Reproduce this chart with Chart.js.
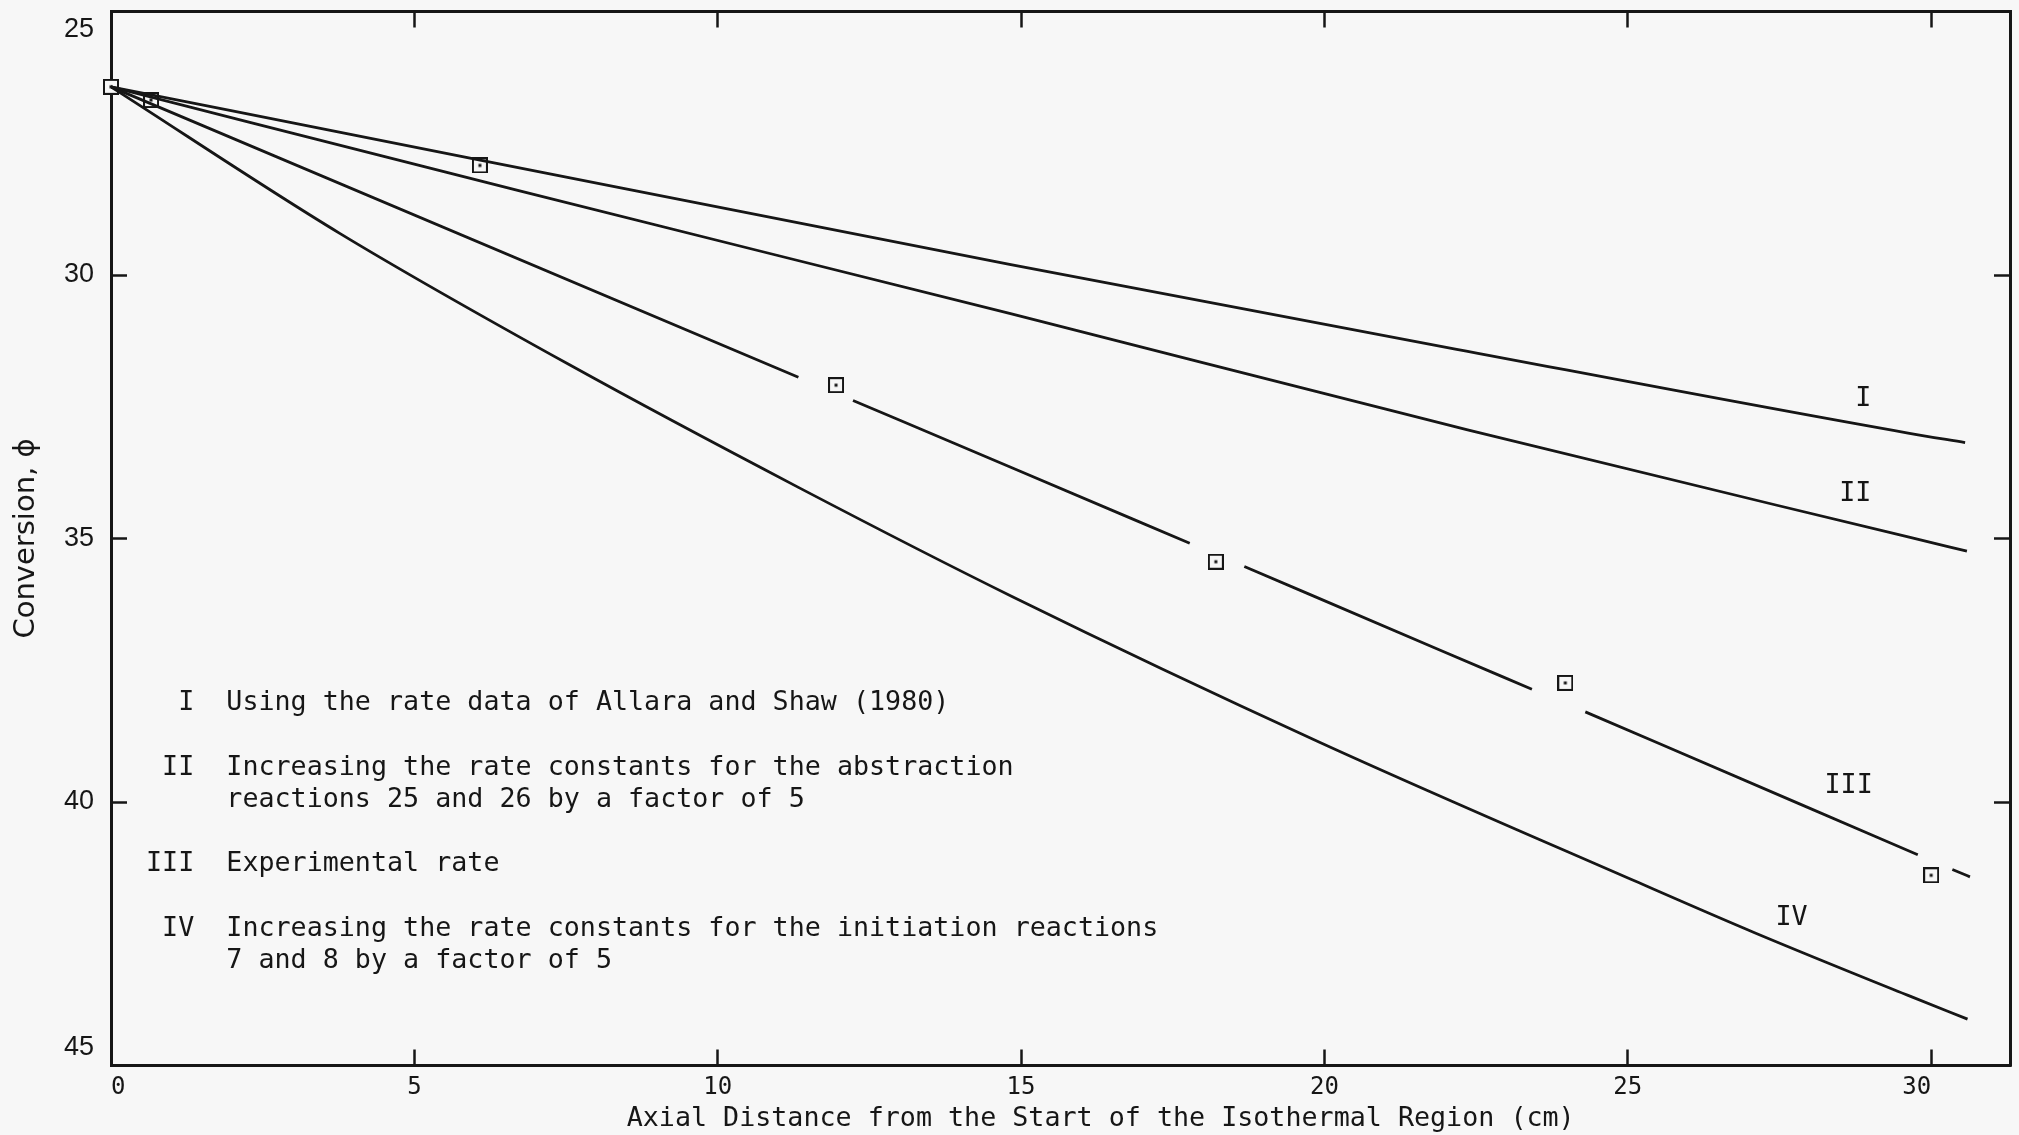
<!DOCTYPE html>
<html>
<head>
<meta charset="utf-8">
<title>Conversion along the isothermal region</title>
<script src="https://cdn.jsdelivr.net/npm/chart.js@4.4.1/dist/chart.umd.min.js"></script>
<style>
  html, body { margin: 0; padding: 0; background: #f7f7f7; }
  canvas { display: block; }
</style>
</head>
<body>
<canvas id="chart" width="2019" height="1135"></canvas>
<script>
// Axial distance (cm) and conversion (phi) for each computed profile
const distI  = [0, 6.0, 14.81, 22.18, 29.62, 30.56];
const convI  = [26.43, 27.80, 29.80, 31.41, 33.00, 33.18];

const distII = [0, 6.72, 14.81, 22.36, 29.62, 30.59];
const convII = [26.43, 28.40, 30.73, 32.94, 34.97, 35.24];

// Experimental-rate profile; null marks where the line is broken around a measured point
const distIII = [0, 11.33, null, 12.23, 14.81, 17.78, null, 18.68, 21.89, 23.42, null, 24.30, 27.84, 29.78, null, 30.35, 30.64];
const convIII = [26.43, 31.94, null, 32.38, 33.64, 35.09, null, 35.53, 37.11, 37.86, null, 38.29, 40.04, 41.00, null, 41.28, 41.42];

const distIV = [0, 3.77, 7.55, 11.33, 14.85, 19.91, 25.10, 27.09, 29.62, 30.60];
const convIV = [26.43, 29.21, 31.70, 34.03, 36.10, 38.86, 41.49, 42.48, 43.67, 44.12];

// Measured conversions
const distMeas = [0, 0.66, 6.08, 11.95, 18.21, 23.97, 30.0];
const convMeas = [26.43, 26.68, 27.92, 32.09, 35.44, 37.74, 41.39];

// Curve names placed beside the right-hand ends
const curveNames = ['I', 'II', 'III', 'IV'];
const curveNameDist = [28.88, 28.75, 28.64, 27.70];
const curveNameConv = [32.36, 34.16, 39.70, 42.20];

const xTickValues = [0, 5, 10, 15, 20, 25, 30];
const yTickValues = [25, 30, 35, 40, 45];

const keyLines = [
  '  I  Using the rate data of Allara and Shaw (1980)',
  ' II  Increasing the rate constants for the abstraction',
  '     reactions 25 and 26 by a factor of 5',
  'III  Experimental rate',
  ' IV  Increasing the rate constants for the initiation reactions',
  '     7 and 8 by a factor of 5'
];

const INK = '#161616';
const PAPER = '#f7f7f7';
const MONO = '"DejaVu Sans Mono", monospace';

function pairs(xs, ys) {
  return xs.map((x, i) => ({ x: x, y: ys[i] }));
}

// Square marker with a centre dot
function makeMarker() {
  const c = document.createElement('canvas');
  c.width = 16; c.height = 16;
  const g = c.getContext('2d');
  g.fillStyle = PAPER;
  g.fillRect(0, 0, 16, 16);
  g.strokeStyle = INK;
  g.lineWidth = 2;
  g.strokeRect(1, 1, 14, 14);
  g.fillStyle = INK;
  g.fillRect(6.5, 6.5, 3, 3);
  return c;
}

function lineSet(label, xs, ys) {
  return {
    label: label,
    data: pairs(xs, ys),
    showLine: true,
    spanGaps: false,
    borderColor: INK,
    borderWidth: 2.8,
    pointRadius: 0,
    cubicInterpolationMode: 'monotone',
    fill: false,
    order: 0
  };
}

// Key and curve names drawn over the plot
const annotate = {
  id: 'annotate',
  afterDraw(chart) {
    const ctx = chart.ctx;
    const xs = chart.scales.x, ys = chart.scales.y;
    ctx.save();
    ctx.fillStyle = INK;
    ctx.font = '26.7px ' + MONO;
    ctx.textBaseline = 'alphabetic';
    ctx.textAlign = 'left';
    const baselines = [710, 775, 807, 871, 936, 968];
    keyLines.forEach((t, i) => ctx.fillText(t, 146, baselines[i]));

    ctx.textAlign = 'center';
    ctx.textBaseline = 'middle';
    curveNames.forEach((n, i) => {
      ctx.fillText(n, xs.getPixelForValue(curveNameDist[i]), ys.getPixelForValue(curveNameConv[i]));
    });
    ctx.restore();
  }
};

const frame = { display: true, width: 3, color: INK };
const inwardTicks = { drawOnChartArea: false, drawTicks: true, tickLength: -16, tickWidth: 2.5, tickColor: INK };

function fixWidth(w) {
  return s => { s.width = w; s.paddingTop = 0; s.paddingBottom = 0; };
}
function fixHeight(h) {
  return s => { s.height = h; s.paddingLeft = 0; s.paddingRight = 0; };
}

new Chart(document.getElementById('chart'), {
  type: 'scatter',
  data: {
    datasets: [
      {
        label: 'Measured',
        data: pairs(distMeas, convMeas),
        showLine: false,
        pointStyle: makeMarker(),
        pointRadius: 8,
        clip: false,
        order: 1
      },
      lineSet('I', distI, convI),
      lineSet('II', distII, convII),
      lineSet('III', distIII, convIII),
      lineSet('IV', distIV, convIV)
    ]
  },
  options: {
    responsive: false,
    animation: false,
    events: [],
    layout: { padding: 0 },
    plugins: { legend: { display: false }, tooltip: { enabled: false } },
    scales: {
      x: {
        type: 'linear', position: 'bottom', min: 0, max: 31.3,
        afterBuildTicks: s => { s.ticks = xTickValues.map(v => ({ value: v })); },
        afterFit: fixHeight(69.5),
        border: frame,
        grid: inwardTicks,
        ticks: {
          includeBounds: false, autoSkip: false, maxRotation: 0, align: 'inner',
          padding: 24, color: INK, font: { family: MONO, size: 24 }
        },
        title: {
          display: true,
          text: '     Axial Distance from the Start of the Isothermal Region (cm)',
          color: INK, font: { family: MONO, size: 26.7 }, padding: { top: 0, bottom: 0 }
        }
      },
      xTop: {
        type: 'linear', axis: 'x', position: 'top', min: 0, max: 31.3,
        afterBuildTicks: s => { s.ticks = xTickValues.map(v => ({ value: v })); },
        afterFit: fixHeight(11.5),
        border: frame,
        grid: inwardTicks,
        ticks: { display: false }
      },
      y: {
        type: 'linear', position: 'left', min: 25, max: 45, reverse: true,
        afterBuildTicks: s => { s.ticks = yTickValues.map(v => ({ value: v })); },
        afterFit: fixWidth(111),
        border: frame,
        grid: inwardTicks,
        ticks: {
          includeBounds: false, autoSkip: false, padding: 33, color: INK,
          font: { family: '"Liberation Sans", Arial, sans-serif', size: 27, lineHeight: 1.3 },
          callback: v => v === 25 ? ['', '25'] : (v === 45 ? ['45', ''] : String(v))
        },
        title: {
          display: true, text: 'Conversion, \u03d5',
          color: INK, font: { family: '"DejaVu Sans", sans-serif', size: 29 }, padding: { top: 9, bottom: 0 }
        }
      },
      yRight: {
        type: 'linear', axis: 'y', position: 'right', min: 25, max: 45, reverse: true,
        afterBuildTicks: s => { s.ticks = yTickValues.map(v => ({ value: v })); },
        afterFit: fixWidth(6),
        border: frame,
        grid: inwardTicks,
        ticks: { display: false }
      }
    }
  },
  plugins: [annotate]
});
</script>
</body>
</html>
